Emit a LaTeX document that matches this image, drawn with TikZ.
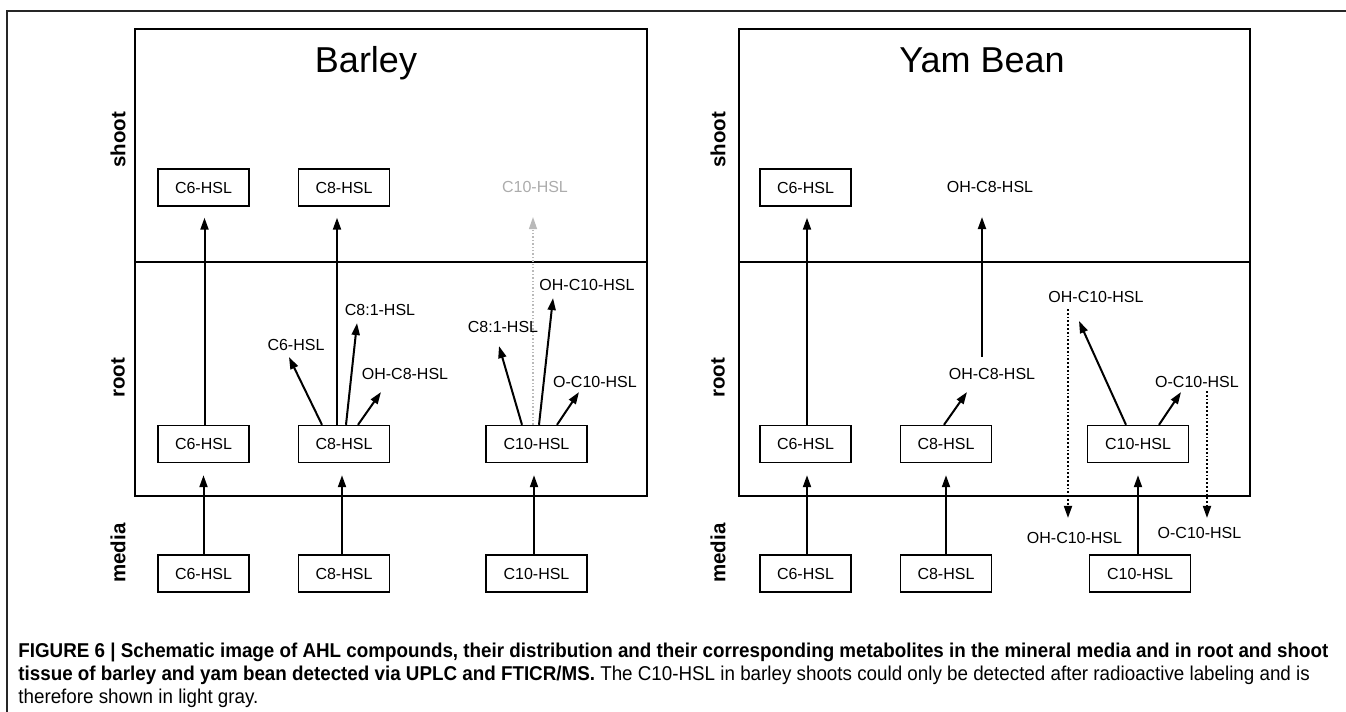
\documentclass[tikz,border=0pt]{standalone}
\usepackage{fontspec}
\setmainfont{Liberation Sans}
\newfontfamily\capfont[FakeStretch=0.94]{Liberation Sans}
\usetikzlibrary{arrows.meta,positioning,calc}

\begin{document}
\begin{tikzpicture}[x=0.5pt, y=-0.5pt,
  every node/.style={font=\fontsize{8pt}{9pt}\selectfont},
  cbox/.style={draw, line width=0.7pt, minimum width=45.5pt, minimum height=18.5pt, inner sep=0pt},
  wbox/.style={cbox, minimum width=50.5pt},
  lbl/.style={inner sep=0pt},
  tissue/.style={inner sep=0pt, rotate=90, font=\fontsize{10.25pt}{11pt}\selectfont\bfseries},
  plant/.style={inner sep=0pt, anchor=base, font=\fontsize{18pt}{20pt}\selectfont},
  arr/.style={line width=1pt, -{Triangle[length=6pt,width=4pt]}},
  dots/.style={line width=0.9pt, densely dotted, -{Triangle[length=6pt,width=4pt]}},
  faint/.style={line width=0.7pt, densely dotted, gray!55, -{Triangle[length=6pt,width=4pt]}},
  capline/.style={inner sep=0pt, anchor=base west, font=\capfont\fontsize{10pt}{11pt}\selectfont}]

  \useasboundingbox (0,0) rectangle (1346,712);

  % frame and panels
  \draw[line width=1.3pt, black!85] (7,712) -- (7,11) -- (1346,11);
  \draw[line width=0.6pt] (135,29) rectangle (647,496);
  \draw[line width=0.6pt] (135,262) -- (647,262);
  \draw[line width=0.6pt] (739,29) rectangle (1250,496);
  \draw[line width=0.6pt] (739,262) -- (1250,262);

  \node[plant] (barley) at (366,72) {Barley};
  \node[plant] (yambean) at (982,72) {Yam Bean};

  \node[tissue] (shootA) at (118,140) {shoot};
  \node[tissue] (rootA) at (118,378) {root};
  \node[tissue] (mediaA) at (118,553) {media};
  \node[tissue] (shootB) at (718,140) {shoot};
  \node[tissue] (rootB) at (718,378) {root};
  \node[tissue] (mediaB) at (718,553) {media};

  % barley
  \node[cbox] (bS6) at (203.5,187.5) {C6-HSL};
  \node[cbox] (bS8) at (344,187.5) {C8-HSL};
  \node[lbl, text=gray!65] (bS10) at (535,187) {C10-HSL};
  \node[cbox] (bR6) at (203.5,444) {C6-HSL};
  \node[cbox] (bR8) at (344,444) {C8-HSL};
  \node[wbox] (bR10) at (536.5,444) {C10-HSL};
  \node[cbox] (bM6) at (203.5,573.5) {C6-HSL};
  \node[cbox] (bM8) at (344,573.5) {C8-HSL};
  \node[wbox] (bM10) at (536.5,573.5) {C10-HSL};

  \node[lbl] (bC6m) at (296,345) {C6-HSL};
  \node[lbl] (bC81m) at (380,310) {C8:1-HSL};
  \node[lbl] (bOH8m) at (405,374) {OH-C8-HSL};
  \node[lbl] (bC81n) at (503,327) {C8:1-HSL};
  \node[lbl] (bOH10m) at (587,285) {OH-C10-HSL};
  \node[lbl] (bO10m) at (595,382) {O-C10-HSL};

  \draw[arr, shorten >=6pt] (bM6.north) -- (bR6.south);
  \draw[arr, shorten >=5.5pt] ([xshift=0.5pt]bR6.north) -- ([xshift=0.5pt]bS6.south);
  \draw[arr, shorten >=6pt] ([xshift=-1pt]bM8.north) -- ([xshift=-1pt]bR8.south);
  \draw[arr, shorten >=5.5pt] ([xshift=-3.5pt]bR8.north) -- ([xshift=-3.5pt]bS8.south);
  \draw[arr] ([xshift=-11pt]bR8.north) -- ([xshift=-3.5pt,yshift=-3pt]bC6m.south);
  \draw[arr] ([xshift=1pt]bR8.north) -- ([xshift=-11.5pt,yshift=-3.5pt]bC81m.south);
  \draw[arr] ([xshift=7pt]bR8.north) -- ([xshift=-12pt,yshift=-6pt]bOH8m.south);
  \draw[arr, shorten >=6pt] ([xshift=-1.25pt]bM10.north) -- ([xshift=-1.25pt]bR10.south);
  \draw[faint, shorten >=12pt] ([xshift=-1.75pt]bR10.north) -- ([xshift=-1pt]bS10.south);
  \draw[arr] ([xshift=-7.25pt]bR10.north) -- ([xshift=-2pt,yshift=-6.5pt]bC81n.south);
  \draw[arr] ([xshift=1.25pt]bR10.north) -- ([xshift=-17pt,yshift=-3.5pt]bOH10m.south);
  \draw[arr] ([xshift=10.25pt]bR10.north) -- ([xshift=-8pt,yshift=-2pt]bO10m.south);

  % yam bean
  \node[cbox] (yS6) at (805.5,187.5) {C6-HSL};
  \node[lbl] (yS8) at (990,187) {OH-C8-HSL};
  \node[cbox] (yR6) at (805.5,444) {C6-HSL};
  \node[cbox] (yR8) at (946,444) {C8-HSL};
  \node[wbox] (yR10) at (1138,444) {C10-HSL};
  \node[cbox] (yM6) at (805.5,573.5) {C6-HSL};
  \node[cbox] (yM8) at (946,573.5) {C8-HSL};
  \node[wbox] (yM10) at (1140,573.5) {C10-HSL};

  \node[lbl] (yOH8m) at (992,374) {OH-C8-HSL};
  \node[lbl] (yOH10m) at (1096,297) {OH-C10-HSL};
  \node[lbl] (yO10m) at (1197,382) {O-C10-HSL};
  \node[lbl] (yOH10x) at (1074.5,538) {OH-C10-HSL};
  \node[lbl] (yO10x) at (1199.5,533) {O-C10-HSL};

  \draw[arr, shorten >=6pt] ([xshift=0.75pt]yM6.north) -- ([xshift=0.75pt]yR6.south);
  \draw[arr, shorten >=5.5pt] ([xshift=0.75pt]yR6.north) -- ([xshift=0.75pt]yS6.south);
  \draw[arr, shorten >=6pt] (yM8.north) -- (yR8.south);
  \draw[arr] ([xshift=-1pt]yR8.north) -- ([xshift=-12.5pt,yshift=-6pt]yOH8m.south);
  \draw[arr, shorten >=12pt] ([xshift=-5pt,yshift=5.5pt]yOH8m.north) -- ([xshift=-4pt]yS8.south);
  \draw[arr] ([xshift=-6pt]yR10.north) -- ([xshift=-8.5pt,yshift=-9pt]yOH10m.south);
  \draw[arr] ([xshift=10.5pt]yR10.north) -- ([xshift=-8pt,yshift=-2pt]yO10m.south);
  \draw[dots] ([xshift=-14pt,yshift=-3pt]yOH10m.south) -- ([xshift=-3.25pt,yshift=7pt]yOH10x.north);
  \draw[dots] ([xshift=5pt,yshift=-1.5pt]yO10m.south) -- ([xshift=3.75pt,yshift=4.5pt]yO10x.north);
  \draw[arr, shorten >=6pt] ([xshift=-1pt]yM10.north) -- ([xshift=0pt]yR10.south);

  % caption
  \node[capline] (cap1) at (18,657) {\bfseries FIGURE 6 | Schematic image of AHL compounds, their distribution and their corresponding metabolites in the mineral media and in root and shoot};
  \node[capline] (cap2) at (18,680) {\textbf{tissue of barley and yam bean detected via UPLC and FTICR/MS.} The C10-HSL in barley shoots could only be detected after radioactive labeling and is};
  \node[capline] (cap3) at (18,703) {therefore shown in light gray.};
\end{tikzpicture}
\end{document}
